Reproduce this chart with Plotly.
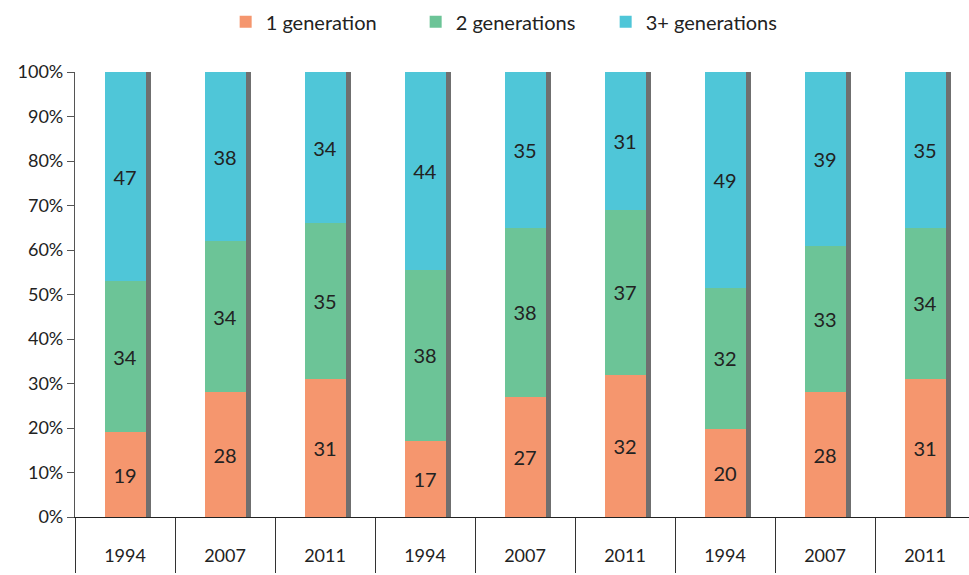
import plotly.graph_objects as go

years = ["1994", "2007", "2011", "1994", "2007", "2011", "1994", "2007", "2011"]
gen1 = [19, 28, 31, 17, 27, 32, 20, 28, 31]
gen2 = [34, 34, 35, 38, 38, 37, 32, 33, 34]
gen3 = [47, 38, 34, 44, 35, 31, 49, 39, 35]
series_names = ["1 generation", "2 generations", "3+ generations"]
colors = ["#F5966E", "#6CC497", "#4FC6D8"]

pos = list(range(len(years)))
totals = [a + b + c for a, b, c in zip(gen1, gen2, gen3)]
BW = 0.41
FONT = "Lato, 'Open Sans', sans-serif"

fig = go.Figure()
# drop shadow (base subplot, drawn beneath the bars)
fig.add_trace(go.Bar(x=pos, y=totals, width=BW, offset=-BW / 2 + 0.055,
                     marker=dict(color="rgba(55,55,55,0.72)", line=dict(width=0)),
                     showlegend=False, hoverinfo="skip", xaxis="x", yaxis="y"))
for name, vals, col in zip(series_names, [gen1, gen2, gen3], colors):
    fig.add_trace(go.Bar(x=pos, y=vals, name=name, width=BW,
                         marker=dict(color=col, line=dict(width=0)),
                         text=vals, texttemplate="%{text}", textposition="inside",
                         insidetextanchor="middle", textangle=0,
                         textfont=dict(size=20, color="#222222", family=FONT),
                         xaxis="x2", yaxis="y2"))

xr = [-0.5, 8.44]
fig.update_layout(
    width=969, height=575,
    margin=dict(l=75, r=0, t=72, b=58),
    paper_bgcolor="white", plot_bgcolor="white",
    barmode="stack", barnorm="percent",
    font=dict(family=FONT, color="#222222"),
    legend=dict(orientation="h", x=0.527, xref="container", xanchor="center",
                y=0.962, yref="container", yanchor="middle",
                font=dict(size=20, color="#222222"), itemwidth=30,
                entrywidth=145, entrywidthmode="pixels",
                traceorder="normal"),
    xaxis=dict(range=xr, tickmode="array", tickvals=pos, ticktext=years,
               ticks="", ticklen=0, ticklabelstandoff=22,
               tickfont=dict(size=18, color="#222222"),
               showline=True, linecolor="#222222", linewidth=1.2,
               showgrid=False, zeroline=False,
               minor=dict(tickmode="linear", tick0=-0.5, dtick=1, ticks="outside",
                          ticklen=55, tickcolor="#333333", tickwidth=1.2, showgrid=False)),
    yaxis=dict(range=[0, 100], tickmode="linear", tick0=0, dtick=10,
               ticksuffix="%", ticks="outside", ticklen=7, tickcolor="#555555",
               tickfont=dict(size=18, color="#222222"),
               showline=True, linecolor="#555555", linewidth=1.2,
               showgrid=False, zeroline=False),
    xaxis2=dict(range=xr, overlaying="x", visible=False),
    yaxis2=dict(range=[0, 100], overlaying="y", visible=False),
)

fig.write_html("out.html", config={"displayModeBar": False},
               post_script="document.body.style.margin='0';document.body.style.overflow='hidden';")
